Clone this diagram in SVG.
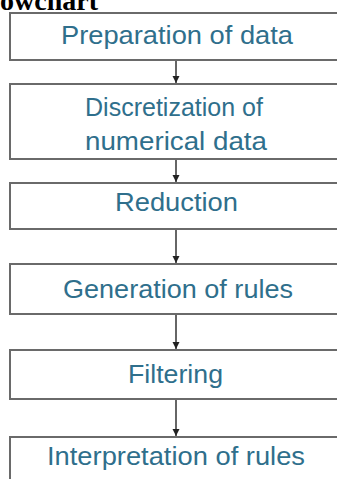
<svg xmlns="http://www.w3.org/2000/svg" width="337" height="479" viewBox="0 0 337 479">
<style>
.box{fill:#fff;stroke:#6a6a6a;stroke-width:2}
.lbl{font-family:"Liberation Sans",Arial,sans-serif;font-size:26px;fill:#2f6f8c;text-anchor:start}
.title{font-family:"Liberation Serif","Times New Roman",serif;font-weight:bold;font-size:28px;fill:#000}
.conn{stroke:#333;stroke-width:1.5;fill:none}
</style>
<defs>
<marker id="ah" markerWidth="8" markerHeight="8" refX="7" refY="4" orient="auto" markerUnits="userSpaceOnUse">
<path d="M0,0.5 L7,4 L0,7.5 Z" fill="#222"/>
</marker>
</defs>
<rect width="337" height="479" fill="#fff"/>
<text class="title" x="0" y="10">owchart</text>
<g id="connectors">
<line class="conn" x1="176" y1="60" x2="176" y2="83" marker-end="url(#ah)"/>
<line class="conn" x1="176" y1="159" x2="176" y2="182" marker-end="url(#ah)"/>
<line class="conn" x1="176" y1="229" x2="176" y2="263" marker-end="url(#ah)"/>
<line class="conn" x1="176" y1="314" x2="176" y2="349" marker-end="url(#ah)"/>
<line class="conn" x1="176" y1="399" x2="176" y2="436" marker-end="url(#ah)"/>
</g>
<g id="n1"><rect class="box" x="10" y="13" width="340" height="47"/><text class="lbl" x="61" y="44" textLength="232" lengthAdjust="spacingAndGlyphs">Preparation of data</text></g>
<g id="n2"><rect class="box" x="10" y="84" width="340" height="75"/><text class="lbl" x="85" y="116" textLength="178" lengthAdjust="spacingAndGlyphs">Discretization of</text><text class="lbl" x="85" y="150" textLength="182" lengthAdjust="spacingAndGlyphs">numerical data</text></g>
<g id="n3"><rect class="box" x="10" y="183" width="340" height="46"/><text class="lbl" x="115" y="211" textLength="123" lengthAdjust="spacingAndGlyphs">Reduction</text></g>
<g id="n4"><rect class="box" x="10" y="264" width="340" height="50"/><text class="lbl" x="63" y="298" textLength="230" lengthAdjust="spacingAndGlyphs">Generation of rules</text></g>
<g id="n5"><rect class="box" x="10" y="350" width="340" height="49"/><text class="lbl" x="128" y="383" textLength="95" lengthAdjust="spacingAndGlyphs">Filtering</text></g>
<g id="n6"><rect class="box" x="10" y="437" width="340" height="60"/><text class="lbl" x="47" y="465" textLength="258" lengthAdjust="spacingAndGlyphs">Interpretation of rules</text></g>
</svg>
